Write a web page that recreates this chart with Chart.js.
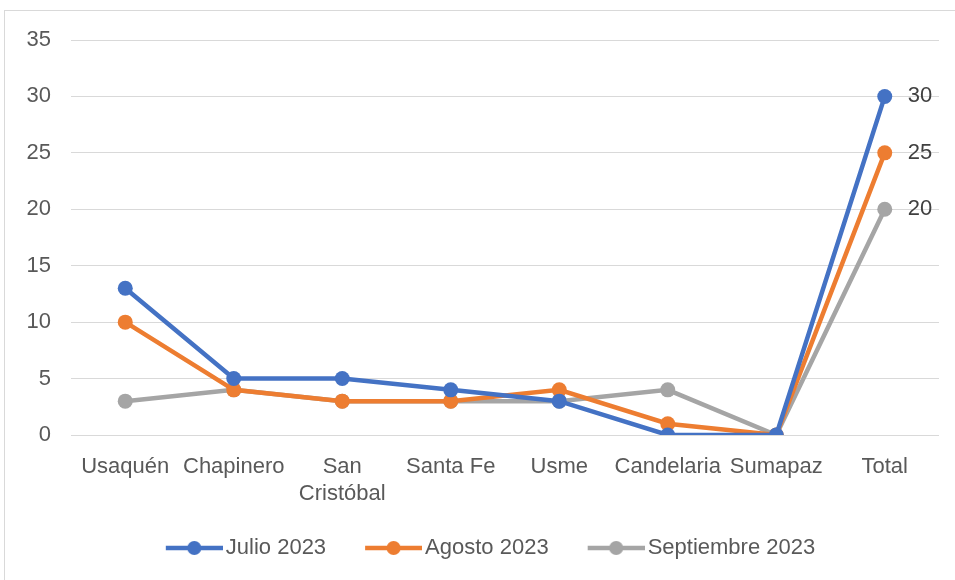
<!DOCTYPE html>
<html>
<head>
<meta charset="utf-8">
<script src="https://cdn.jsdelivr.net/npm/chart.js@4/dist/chart.umd.min.js"></script>
<style>
  html, body { margin: 0; padding: 0; background: #fff; }
  .wrap {
    position: absolute; left: 4px; top: 10px;
    width: 951px; height: 570px;
    box-sizing: border-box; border: 1px solid #d9d9d9; border-right: none; border-bottom: none;
  }
  canvas { display: block; }
</style>
</head>
<body>
<div class="wrap"><canvas id="myChart" width="950" height="569"></canvas></div>
<script>
const categories = ['Usaquén', 'Chapinero', ['San', 'Cristóbal'], 'Santa Fe', 'Usme', 'Candelaria', 'Sumapaz', 'Total'];
const julio = [13, 5, 5, 4, 3, 0, 0, 30];
const agosto = [10, 4, 3, 3, 4, 1, 0, 25];
const septiembre = [3, 4, 3, 3, 3, 4, 0, 20];
const seriesNames = ['Julio 2023', 'Agosto 2023', 'Septiembre 2023'];
const colors = ['#4472C4', '#ED7D31', '#A5A5A5'];
const yTicks = [0, 5, 10, 15, 20, 25, 30, 35];

const FONT = "'Liberation Sans', Arial, sans-serif";
const TEXT = '#595959';
const FS = 22;
const LEGEND_SHIFT = 4;
const MARK_W = 78; // legend box width (includes the gap before the line)

// legend marker: line with dot, blank space on its left acts as item gap
function legendMarker(color) {
  const half = FS / 2;
  const lineEnd = MARK_W + half - 3;   // relative to box x
  const lineStart = lineEnd - 57;
  const w = 2 * (lineEnd - MARK_W / 2);
  const left = MARK_W / 2 - w / 2;     // image left relative to box x
  const c = document.createElement('canvas');
  c.width = Math.ceil(w); c.height = 16;
  const g = c.getContext('2d');
  g.strokeStyle = color; g.lineWidth = 4.5;
  g.beginPath(); g.moveTo(lineStart - left, 8); g.lineTo(lineEnd - left, 8); g.stroke();
  g.fillStyle = color;
  g.beginPath(); g.arc((lineStart + lineEnd) / 2 - left, 8, 7, 0, Math.PI * 2); g.fill();
  return c;
}

// value labels on the last point
const lastLabels = {
  id: 'lastLabels',
  afterDatasetsDraw(chart) {
    const ctx = chart.ctx;
    ctx.save();
    ctx.font = FS + 'px ' + FONT;
    ctx.fillStyle = '#404040';
    ctx.textAlign = 'left';
    ctx.textBaseline = 'middle';
    chart.data.datasets.forEach((ds, i) => {
      const meta = chart.getDatasetMeta(i);
      const n = ds.data.length - 1;
      const pt = meta.data[n];
      ctx.fillText(String(ds.data[n]), pt.x + 23, pt.y);
    });
    ctx.restore();
  }
};

const shiftLegend = {
  id: 'shiftLegend',
  afterLayout(chart) {
    chart.legend.left += LEGEND_SHIFT;
    chart.legend.right += LEGEND_SHIFT;
  }
};

const datasets = [julio, agosto, septiembre].map((d, i) => ({
  label: seriesNames[i],
  data: d,
  borderColor: colors[i],
  backgroundColor: colors[i],
  borderWidth: 4.5,
  pointRadius: 7.5,
  pointHoverRadius: 7.5,
  pointBorderWidth: 0,
  tension: 0
}));

new Chart(document.getElementById('myChart').getContext('2d'), {
  type: 'line',
  data: { labels: categories, datasets: datasets },
  plugins: [lastLabels, shiftLegend],
  options: {
    responsive: false,
    animation: false,
    layout: { padding: { left: 0, top: 29, right: 16, bottom: 11 } },
    plugins: {
      tooltip: { enabled: false },
      legend: {
        position: 'bottom',
        labels: {
          usePointStyle: true,
          pointStyleWidth: MARK_W,
          boxHeight: 16,
          padding: 10,
          color: TEXT,
          font: { family: FONT, size: FS },
          generateLabels(chart) {
            return chart.data.datasets.map((ds, i) => ({
              text: ds.label,
              fillStyle: colors[i],
              strokeStyle: colors[i],
              lineWidth: 0,
              pointStyle: legendMarker(colors[i]),
              datasetIndex: i,
              fontColor: TEXT
            }));
          }
        }
      }
    },
    scales: {
      x: {
        offset: true,
        grid: { display: false, drawTicks: false },
        border: { display: false },
        ticks: { color: TEXT, font: { family: FONT, size: FS, lineHeight: 1.25 }, padding: 18, maxRotation: 0, autoSkip: false },
        afterFit(scale) { scale.height = 92; }
      },
      y: {
        min: 0,
        max: 35,
        afterBuildTicks(scale) { scale.ticks = yTicks.map(v => ({ value: v })); },
        grid: { color: '#d9d9d9', lineWidth: 1, drawTicks: false },
        border: { display: false },
        ticks: { color: TEXT, font: { family: FONT, size: FS }, padding: 20 },
        afterFit(scale) { scale.width = 66; scale.paddingTop = 0; scale.paddingBottom = 0; }
      }
    }
  }
});
</script>
</body>
</html>
